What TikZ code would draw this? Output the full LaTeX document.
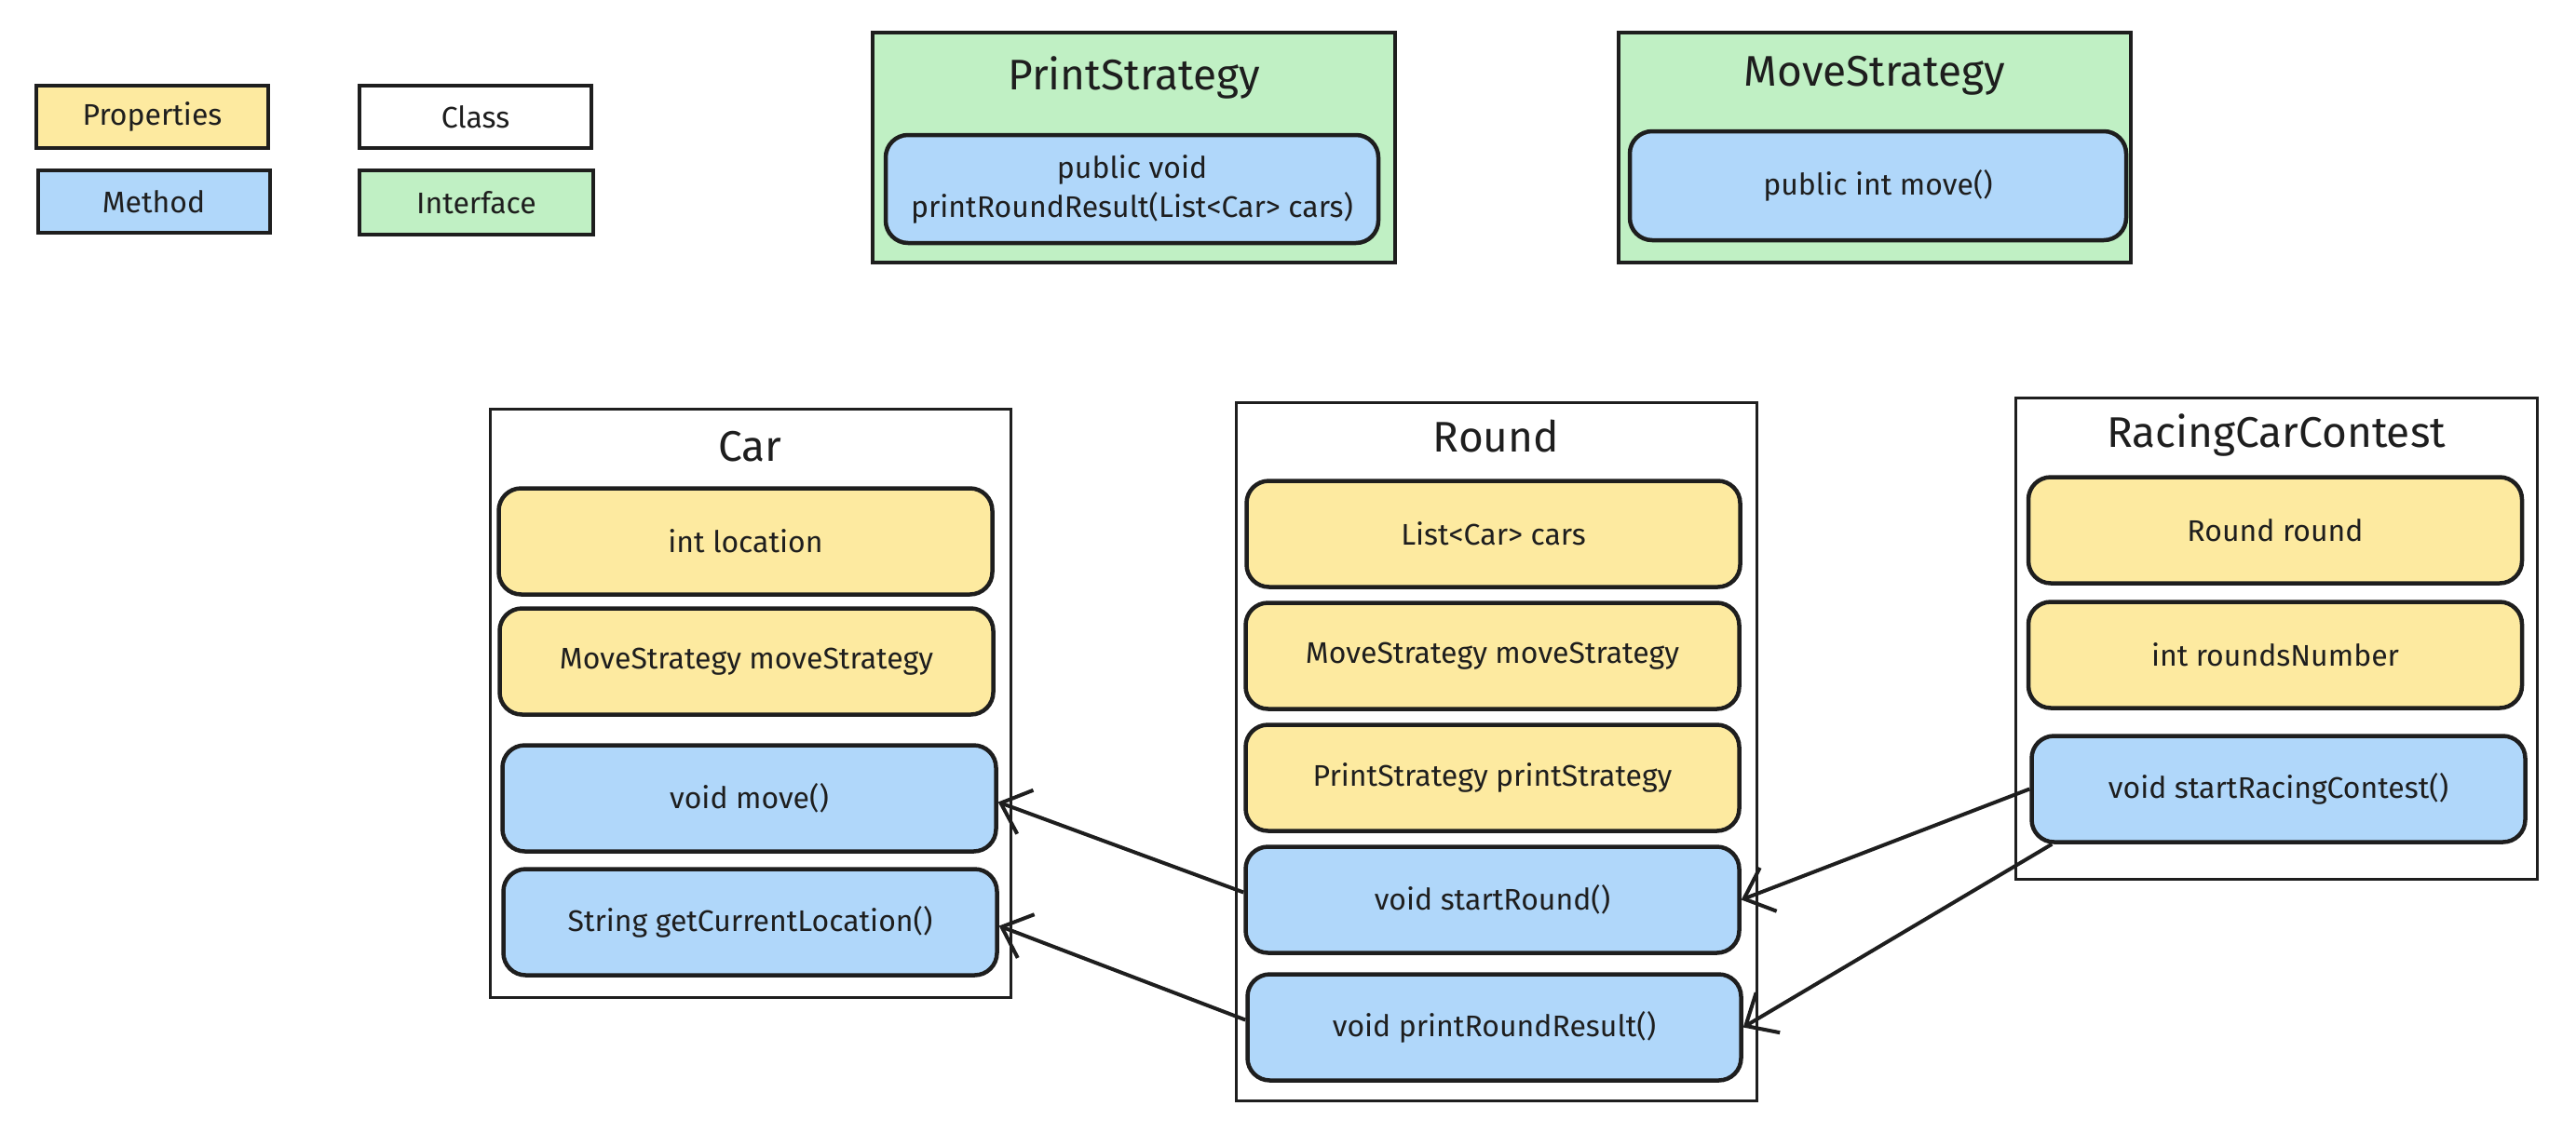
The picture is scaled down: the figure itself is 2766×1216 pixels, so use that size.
\documentclass[tikz,border=0pt]{standalone}
\usepackage{fontspec}
\setmainfont{Fira Sans}
\usetikzlibrary{arrows.meta}
\definecolor{ink}{HTML}{1E1E1E}
\definecolor{propfill}{RGB}{253,234,160}
\definecolor{methfill}{RGB}{176,215,250}
\definecolor{ifacefill}{RGB}{192,240,196}
\tikzset{
  base/.style={draw=ink, text=ink, inner sep=0pt, align=center, font=\fontsize{32}{42}\selectfont},
  legendbox/.style={base, line width=4pt, minimum width=249, minimum height=67},
  member/.style={base, line width=4.5pt, rounded corners=24pt, minimum width=530, minimum height=114},
  propbox/.style={member, fill=propfill},
  methbox/.style={member, fill=methfill},
  classbox/.style={draw=ink, line width=3pt, fill=white, inner sep=0pt},
  ifacebox/.style={draw=ink, line width=3.5pt, fill=ifacefill, inner sep=0pt},
  titletext/.style={text=ink, inner sep=0pt, font=\fontsize{46}{52}\selectfont},
  conn/.style={draw=ink, line width=4pt, -{Straight Barb[length=28pt, width=50pt, line width=4pt]}}
}
\begin{document}
\begin{tikzpicture}[x=1pt, y=-1pt]
\useasboundingbox[fill=white] (0,0) rectangle (2766,1216);

% legend
\node[legendbox, fill=propfill] (legprop) at (163.5,125.5) {Properties};
\node[legendbox, fill=white] (legclass) at (510.5,125.5) {Class};
\node[legendbox, fill=methfill] (legmeth) at (165,216.5) {Method};
\node[legendbox, fill=ifacefill, minimum width=251, minimum height=69] (legiface) at (511.5,217.5) {Interface};

% interfaces
\node[ifacebox, minimum width=561, minimum height=247] (printif) at (1217.5,158.5) {};
\node[titletext] (printiftitle) at (1217.5,83) {PrintStrategy};
\node[methbox, minimum width=529, minimum height=116] (printifm) at (1215.5,203) {public void\\printRoundResult(List<Car> cars)};

\node[ifacebox, minimum width=550, minimum height=247] (moveif) at (2013,158.5) {};
\node[titletext] (moveiftitle) at (2013,81) {MoveStrategy};
\node[methbox, minimum width=533, minimum height=117] (moveifm) at (2016.5,199.5) {public int move()};

% Car
\node[classbox, minimum width=559, minimum height=632] (car) at (805.5,755) {};
\node[titletext] (cartitle) at (805.5,480) {Car};
\node[propbox] (cp1) at (800.5,581.5) {int location};
\node[propbox] (cp2) at (801.5,710.5) {MoveStrategy moveStrategy};
\node[methbox] (cm1) at (804.5,857.5) {void move()};
\node[methbox] (cm2) at (805.5,990.5) {String getCurrentLocation()};

% Round
\node[classbox, minimum width=559, minimum height=750] (round) at (1606.5,807) {};
\node[titletext] (roundtitle) at (1606.5,469) {Round};
\node[propbox] (rp1) at (1603.5,573.5) {List<Car> cars};
\node[propbox] (rp2) at (1602.5,704.5) {MoveStrategy moveStrategy};
\node[propbox] (rp3) at (1602.5,835.5) {PrintStrategy printStrategy};
\node[methbox] (rm1) at (1602.5,966.5) {void startRound()};
\node[methbox] (rm2) at (1604.5,1103.5) {void printRoundResult()};

% RacingCarContest
\node[classbox, minimum width=560, minimum height=517] (rcc) at (2444,685.5) {};
\node[titletext] (rcctitle) at (2444,467) {RacingCarContest};
\node[propbox] (rcp1) at (2443,569.5) {Round round};
\node[propbox] (rcp2) at (2443,703.5) {int roundsNumber};
\node[methbox] (rcm1) at (2446.5,847.5) {void startRacingContest()};

% connectors
\draw[conn] ([yshift=8pt]rm1.west) -- ([yshift=-4pt]cm1.east);
\draw[conn] ([yshift=8pt]rm2.west) -- ([yshift=-4pt]cm2.east);
\draw[conn] (rcm1.west) -- (rm1.east);
\draw[conn] ([xshift=24pt]rcm1.south west) -- (rm2.east);
\end{tikzpicture}
\end{document}
